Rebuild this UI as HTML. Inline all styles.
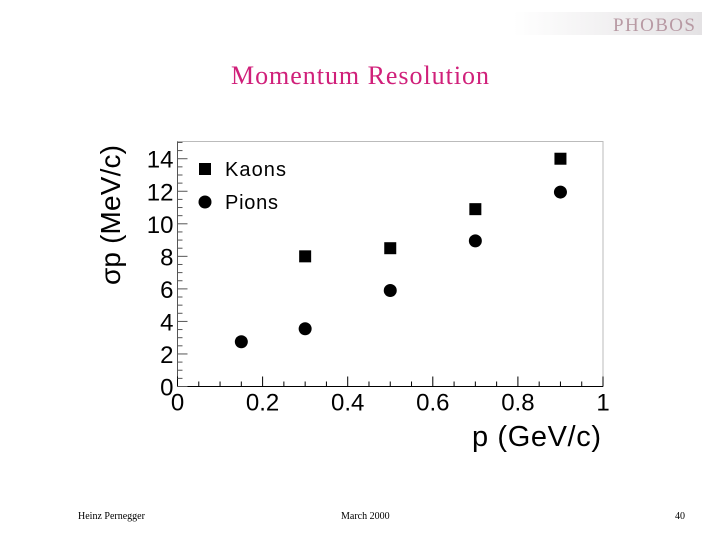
<!DOCTYPE html>
<html><head><meta charset="utf-8"><style>
body{margin:0;background:#fff;width:720px;height:540px;overflow:hidden;font-family:"Liberation Sans",sans-serif}
</style></head><body>
<svg width="720" height="540" xmlns="http://www.w3.org/2000/svg">
<defs><linearGradient id="g" x1="0" x2="1"><stop offset="0" stop-color="#fff"/><stop offset="1" stop-color="#e4e2e4"/></linearGradient></defs>
<rect x="513" y="12" width="189" height="23" fill="url(#g)"/>
<text x="695" y="31" text-anchor="end" font-family="Liberation Serif,serif" font-size="19" fill="#b89aa4" textLength="82">PHOBOS</text>
<text x="360" y="84" text-anchor="middle" font-family="Liberation Serif,serif" font-size="26" fill="#d0207a" textLength="258">Momentum Resolution</text>
<g id="chart"></g>
<text x="78" y="519" font-family="Liberation Serif,serif" font-size="10">Heinz Pernegger</text>
<text x="341" y="519" font-family="Liberation Serif,serif" font-size="10">March 2000</text>
<text x="685" y="519" text-anchor="end" font-family="Liberation Serif,serif" font-size="10">40</text>
</svg>
<script>
const kaonX=[0.3,0.5,0.7,0.9];
const kaonY=[8.0,8.5,10.9,14.0];
const pionX=[0.15,0.3,0.5,0.7,0.9];
const pionY=[2.75,3.55,5.9,8.95,11.95];
const xTicks=[0,0.2,0.4,0.6,0.8,1];
const xTickLabels=["0","0.2","0.4","0.6","0.8","1"];
const yTicks=[0,2,4,6,8,10,12,14];
const yTickLabels=["0","2","4","6","8","10","12","14"];
const L=177.5,R=603,B=386.5,T=141.5;
const xs=v=>L+v*(R-L);
const ys=v=>B-v*16.27;
const NS="http://www.w3.org/2000/svg";
const g=document.getElementById('chart');
function mk(tag,at,name){const e=document.createElementNS(NS,tag);for(const k in at)e.setAttribute(k,at[k]);


g.appendChild(e);return e;}
mk('rect',{x:L,y:T,width:R-L,height:B-T,fill:'none',stroke:'#bbb','stroke-width':1},'plot-frame');
mk('line',{x1:L,y1:B,x2:R,y2:B,stroke:'#000','stroke-width':1},'x-axis');
mk('line',{x1:L,y1:B,x2:L,y2:T,stroke:'#555','stroke-width':1},'y-axis');
for(let i=0;i<=20;i++){const v=i*0.05;const len=i%4==0?10:5;
mk('line',{x1:xs(v),y1:B,x2:xs(v),y2:B-len,stroke:'#000'},'x-tick');}
for(let i=0;i<=30;i++){const v=i*0.5;const len=i%4==0?10:5;
mk('line',{x1:L,y1:ys(v),x2:L+len,y2:ys(v),stroke:'#555'},'y-tick');}
xTicks.forEach((v,i)=>{const t=mk('text',{x:xs(v),y:B+24,'text-anchor':'middle','font-size':24,fill:'#000'},'x-tick-label');t.textContent=xTickLabels[i];});
yTicks.forEach((v,i)=>{const t=mk('text',{x:L-4,y:ys(v)+9,'text-anchor':'end','font-size':24,fill:'#000'},'y-tick-label');t.textContent=yTickLabels[i];});
let t=mk('text',{x:601,y:446,'text-anchor':'end','font-size':29,textLength:129},'x-axis-title');t.textContent='p (GeV/c)';
t=mk('text',{x:120,y:285,'text-anchor':'start','font-size':28,textLength:140,transform:'rotate(-90 120 285)'},'y-axis-title');t.textContent='σp (MeV/c)';
kaonX.forEach((x,i)=>{mk('rect',{x:xs(x)-6,y:ys(kaonY[i])-6,width:12,height:12,fill:'#000'},'kaon-point');});
pionX.forEach((x,i)=>{mk('circle',{cx:xs(x),cy:ys(pionY[i]),r:6.5,fill:'#000'},'pion-point');});
mk('rect',{x:199,y:163,width:12,height:12,fill:'#000'},'legend-kaon-marker');
t=mk('text',{x:225,y:176,'font-size':20,textLength:61},'legend-kaon-label');t.textContent='Kaons';
mk('circle',{cx:205,cy:202,r:6.5,fill:'#000'},'legend-pion-marker');
t=mk('text',{x:225,y:209,'font-size':20,textLength:53},'legend-pion-label');t.textContent='Pions';
</script>
</body></html>
